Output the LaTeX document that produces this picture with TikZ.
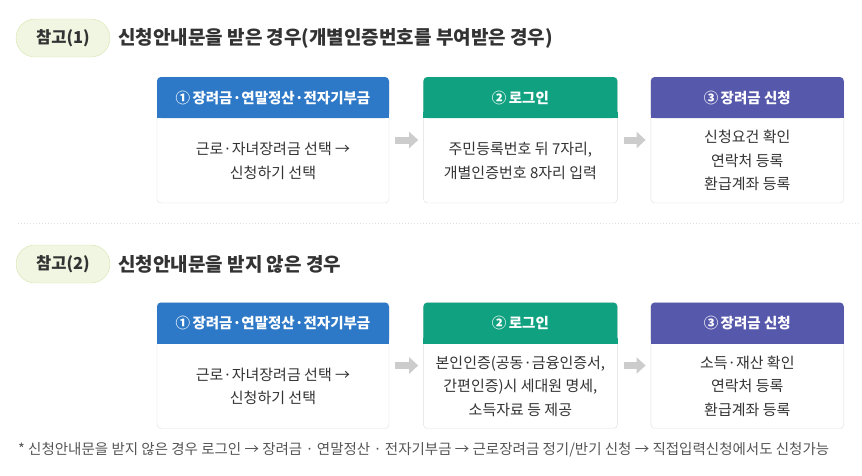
\documentclass[tikz,border=0pt]{standalone}
\usepackage{fontspec}
\setmainfont{Noto Sans CJK KR}
\usetikzlibrary{positioning,calc,arrows.meta}
\definecolor{headblue}{RGB}{45,121,199}
\definecolor{headgreen}{RGB}{16,161,128}
\definecolor{headpurple}{RGB}{86,88,171}
\definecolor{pillfill}{RGB}{240,246,225}
\definecolor{pillline}{RGB}{212,230,175}
\definecolor{txtdark}{RGB}{51,51,51}
\definecolor{txtnote}{RGB}{85,85,85}
\definecolor{cardline}{RGB}{222,222,222}
\definecolor{arrowgray}{RGB}{204,204,204}
\begin{document}
\begin{tikzpicture}[x=1pt,y=-1pt,
    pill/.style={rectangle,rounded corners=19pt,draw=pillline,fill=pillfill,minimum width=94pt,minimum height=38pt,text=txtdark,font=\fontsize{16.5}{19}\selectfont\bfseries},
    heading/.style={inner sep=0pt,text=txtdark,font=\fontsize{19}{22}\selectfont\bfseries},
    card/.style={rectangle,rounded corners=4pt,draw=cardline,fill=white,minimum height=126pt},
    head/.style={anchor=north,rectangle,rounded corners=4pt,minimum height=41pt,text=white,font=\fontsize{14.5}{17}\selectfont\bfseries},
    body/.style={align=center,text=txtdark,font=\fontsize{15}{23.5}\selectfont},
    flow/.style={draw=arrowgray,line width=7pt,-{Triangle[width=16pt,length=9pt]},shorten <=6pt,shorten >=5pt}]
    \useasboundingbox (0,0) rectangle (862,475);

    % case 1
    \node[pill] (ref1) at (63,38) {참고(1)};
    \node[heading,right=8pt of ref1] (title1) {신청안내문을 받은 경우(개별인증번호를 부여받은 경우)};

    \node[card,minimum width=232pt] (c1) at (273,140) {};
    \node[card,minimum width=194pt,right=34pt of c1] (c2) {};
    \node[card,minimum width=193pt,right=33pt of c2] (c3) {};

    \node[head,fill=headblue,minimum width=232pt] (h1) at (c1.north) {①\,장려금·연말정산·전자기부금};
    \fill[headblue] ([yshift=6pt]h1.south west) rectangle (h1.south east);
    \node[head,fill=headgreen,minimum width=194pt] (h2) at (c2.north) {②\,로그인};
    \fill[headgreen] ([yshift=6pt]h2.south west) rectangle (h2.south east);
    \node[head,fill=headpurple,minimum width=193pt] (h3) at (c3.north) {③\,장려금 신청};
    \fill[headpurple] ([yshift=6pt]h3.south west) rectangle (h3.south east);

    \node[body] (b1) at ($(h1.south)!.5!(c1.south)$) {근로·자녀장려금 선택 →\\신청하기 선택};
    \node[body] (b2) at ($(h2.south)!.5!(c2.south)$) {주민등록번호 뒤 7자리,\\개별인증번호 8자리 입력};
    \node[body] (b3) at ($(h3.south)!.5!(c3.south)$) {신청요건 확인\\연락처 등록\\환급계좌 등록};

    \draw[flow] (c1) -- (c2);
    \draw[flow] (c2) -- (c3);

    \draw[dotted,draw=cardline,line width=1pt] (18,223) -- (860,223);

    % case 2
    \node[pill] (ref2) at (63,264) {참고(2)};
    \node[heading,right=8pt of ref2] (title2) {신청안내문을 받지 않은 경우};

    \node[card,minimum width=232pt] (d1) at (273,365.5) {};
    \node[card,minimum width=194pt,right=34pt of d1] (d2) {};
    \node[card,minimum width=193pt,right=33pt of d2] (d3) {};

    \node[head,fill=headblue,minimum width=232pt] (k1) at (d1.north) {①\,장려금·연말정산·전자기부금};
    \fill[headblue] ([yshift=6pt]k1.south west) rectangle (k1.south east);
    \node[head,fill=headgreen,minimum width=194pt] (k2) at (d2.north) {②\,로그인};
    \fill[headgreen] ([yshift=6pt]k2.south west) rectangle (k2.south east);
    \node[head,fill=headpurple,minimum width=193pt] (k3) at (d3.north) {③\,장려금 신청};
    \fill[headpurple] ([yshift=6pt]k3.south west) rectangle (k3.south east);

    \node[body] (e1) at ($(k1.south)!.5!(d1.south)$) {근로·자녀장려금 선택 →\\신청하기 선택};
    \node[body] (e2) at ($(k2.south)!.5!(d2.south)$) {본인인증(공동·금융인증서,\\간편인증)시 세대원 명세,\\소득자료 등 제공};
    \node[body] (e3) at ($(k3.south)!.5!(d3.south)$) {소득·재산 확인\\연락처 등록\\환급계좌 등록};

    \draw[flow] (d1) -- (d2);
    \draw[flow] (d2) -- (d3);

    \node[anchor=west,inner sep=0pt,text=txtnote,font=\fontsize{14.5}{17}\selectfont] (note) at (18,450) {* 신청안내문을 받지 않은 경우 로그인 → 장려금 · 연말정산 · 전자기부금 → 근로장려금 정기/반기 신청 → 직접입력신청에서도 신청가능};
\end{tikzpicture}
\end{document}
